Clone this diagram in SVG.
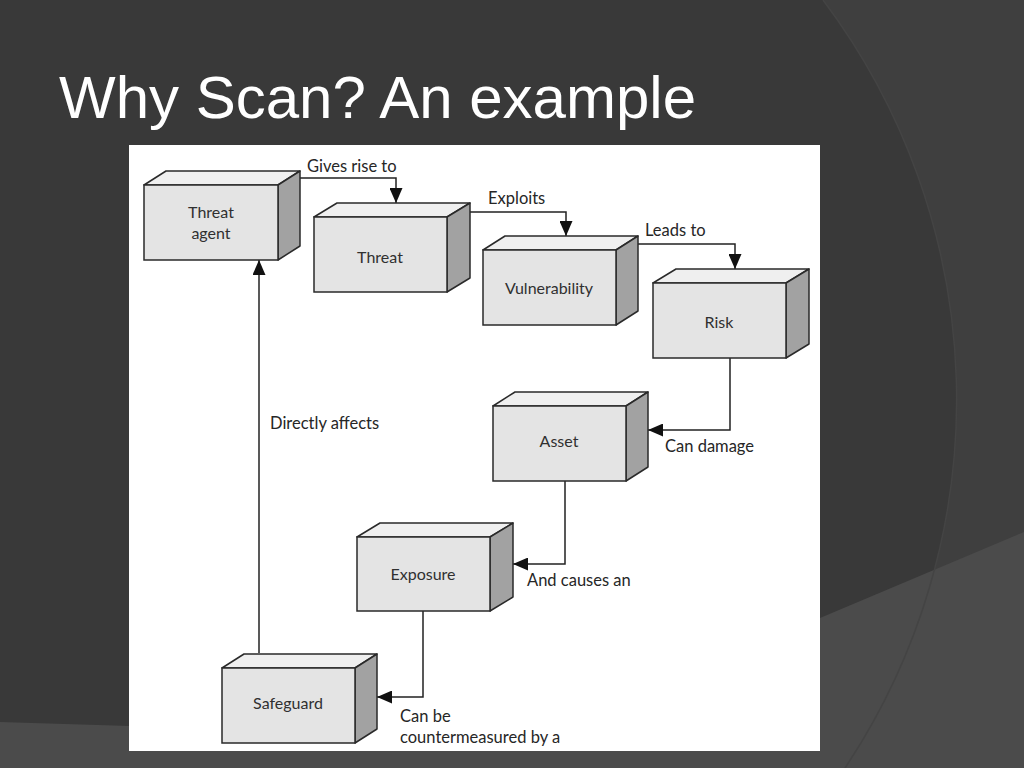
<svg xmlns="http://www.w3.org/2000/svg" width="1024" height="768" viewBox="0 0 1024 768">
<defs>
<style>
.front{fill:#e4e4e4;stroke:#2a2a2a;stroke-width:1.5}
.top{fill:#efefef;stroke:#2a2a2a;stroke-width:1.5;stroke-linejoin:round}
.side{fill:#a2a2a2;stroke:#2a2a2a;stroke-width:1.5;stroke-linejoin:round}
.nt{font-family:Lato,"Open Sans",sans-serif;font-size:16px;fill:#303030;text-anchor:middle;dominant-baseline:central}
.lbl{font-family:Lato,"Open Sans",sans-serif;font-size:16.5px;fill:#262626;dominant-baseline:central}
.conn{fill:none;stroke:#222;stroke-width:1.5}
</style>
<marker id="arr" viewBox="0 0 15 13" refX="15" refY="6.5" markerWidth="15" markerHeight="13" markerUnits="userSpaceOnUse" orient="auto">
<path d="M0,0 L15,6.5 L0,13 Z" fill="#111"/>
</marker>
</defs>
<g id="background">
<rect width="1024" height="768" fill="#393939"/>
<path d="M823,0 A664,664 0 0 1 845,768 L1024,768 L1024,0 Z" fill="#3f3f3f"/>
<path d="M0,722 L130,726 Q500,700 820,618 L1024,532 L1024,768 L0,768 Z" fill="#4b4b4b"/>
<path d="M823,0 A664,664 0 0 1 845,768" fill="none" stroke="#444" stroke-width="1.5"/>
</g>
<text x="59" y="118" font-family="Liberation Sans, Arial, sans-serif" font-size="60" fill="#ffffff">Why Scan? An example</text>
<rect id="panel" x="129" y="145" width="691" height="606" fill="#ffffff"/>
<g id="connectors">
<path class="conn" d="M300,178 H396 V203" marker-end="url(#arr)"/>
<path class="conn" d="M470,212 H566 V236" marker-end="url(#arr)"/>
<path class="conn" d="M638,244 H735 V269" marker-end="url(#arr)"/>
<path class="conn" d="M730,357 V430 H648" marker-end="url(#arr)"/>
<path class="conn" d="M565,481 V564 H513" marker-end="url(#arr)"/>
<path class="conn" d="M423,611 V697 H377" marker-end="url(#arr)"/>
<path class="conn" d="M259,653 V260" marker-end="url(#arr)"/>
<text class="lbl" x="307" y="166">Gives rise to</text>
<text class="lbl" x="488" y="198">Exploits</text>
<text class="lbl" x="645" y="230">Leads to</text>
<text class="lbl" x="665" y="446">Can damage</text>
<text class="lbl" x="527" y="580">And causes an</text>
<text class="lbl" x="400" y="716">Can be</text>
<text class="lbl" x="400" y="737">countermeasured by a</text>
<text class="lbl" x="270" y="423">Directly affects</text>
</g>
<g id="threat-agent">
<path class="top" d="M144,185 L166,171 L300,171 L278,185 Z"/>
<path class="side" d="M278,185 L300,171 L300,246 L278,260 Z"/>
<rect class="front" x="144" y="185" width="134" height="75"/>
<text class="nt" x="211" y="211">Threat</text>
<text class="nt" x="211" y="232">agent</text>
</g>
<g id="threat">
<path class="top" d="M314,217 L337,203 L470,203 L447,217 Z"/>
<path class="side" d="M447,217 L470,203 L470,278 L447,292 Z"/>
<rect class="front" x="314" y="217" width="133" height="75"/>
<text class="nt" x="380" y="256">Threat</text>
</g>
<g id="vulnerability">
<path class="top" d="M483,250 L505,236 L638,236 L616,250 Z"/>
<path class="side" d="M616,250 L638,236 L638,311 L616,325 Z"/>
<rect class="front" x="483" y="250" width="133" height="75"/>
<text class="nt" x="549" y="287">Vulnerability</text>
</g>
<g id="risk">
<path class="top" d="M653,283 L676,269 L809,269 L786,283 Z"/>
<path class="side" d="M786,283 L809,269 L809,344 L786,358 Z"/>
<rect class="front" x="653" y="283" width="133" height="75"/>
<text class="nt" x="719" y="321">Risk</text>
</g>
<g id="asset">
<path class="top" d="M493,406 L515,392 L648,392 L626,406 Z"/>
<path class="side" d="M626,406 L648,392 L648,467 L626,481 Z"/>
<rect class="front" x="493" y="406" width="133" height="75"/>
<text class="nt" x="559" y="440">Asset</text>
</g>
<g id="exposure">
<path class="top" d="M357,537 L380,523 L513,523 L490,537 Z"/>
<path class="side" d="M490,537 L513,523 L513,597 L490,611 Z"/>
<rect class="front" x="357" y="537" width="133" height="74"/>
<text class="nt" x="423" y="573">Exposure</text>
</g>
<g id="safeguard">
<path class="top" d="M222,668 L244,654 L377,654 L355,668 Z"/>
<path class="side" d="M355,668 L377,654 L377,729 L355,743 Z"/>
<rect class="front" x="222" y="668" width="133" height="75"/>
<text class="nt" x="288" y="702">Safeguard</text>
</g>
</svg>
